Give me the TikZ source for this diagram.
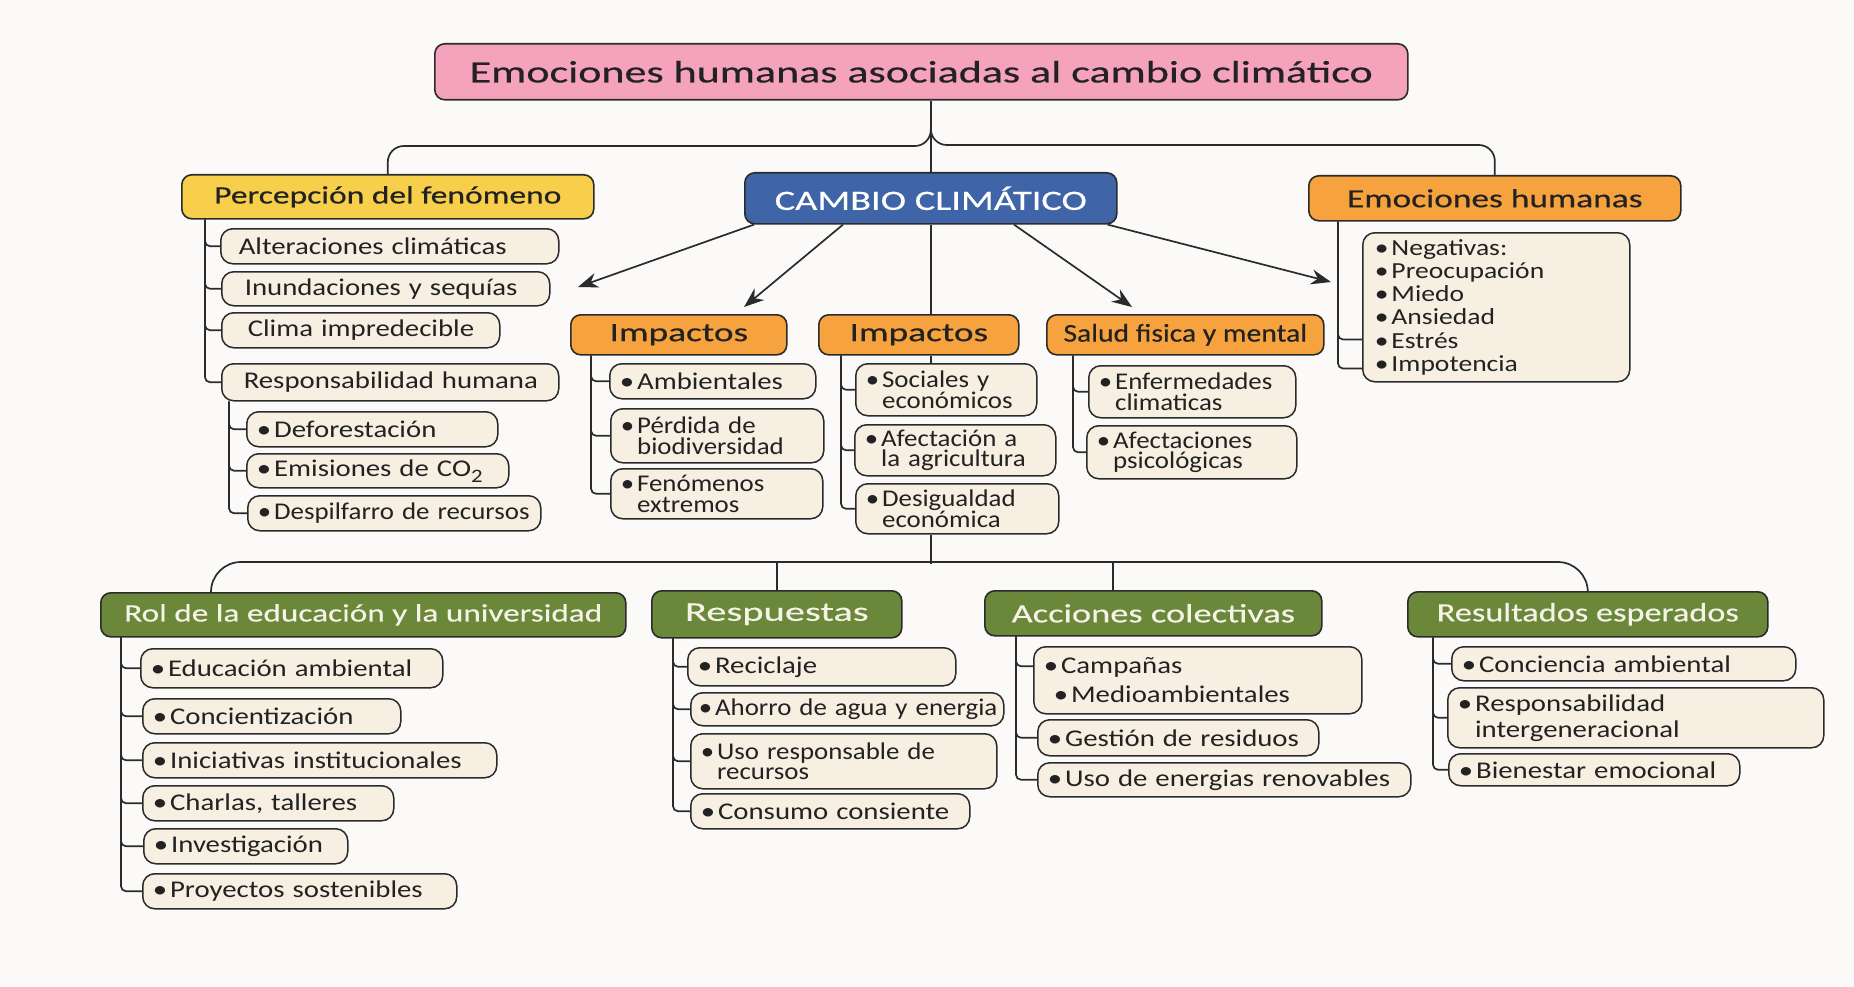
\documentclass[tikz,border=0pt]{standalone}
\usepackage{fontspec}
\setmainfont{Carlito}
\newfontfamily\cf{Carlito}
\newfontfamily\itf{Carlito}[FakeStretch=1.2]
\newfontfamily\itn{Carlito}[FakeStretch=1.12]
\usetikzlibrary{arrows.meta}
\definecolor{bgC}{HTML}{FBFAF9}
\definecolor{lineC}{HTML}{2B2B2B}
\definecolor{txtC}{HTML}{222222}
\definecolor{pinkC}{HTML}{F5A2BC}
\definecolor{yelC}{HTML}{F7CF4B}
\definecolor{blueC}{HTML}{3F65A8}
\definecolor{oraC}{HTML}{F6A23E}
\definecolor{grnC}{HTML}{6A873A}
\definecolor{itemC}{HTML}{F7EFE1}
\definecolor{gtxtC}{HTML}{F5F2E8}
\pgfdeclarelayer{back}\pgfdeclarelayer{bg}\pgfsetlayers{back,bg,main}
\newcommand\hf[2]{\cf\addfontfeature{FakeStretch=#2,FakeBold=0.4}\fontsize{#1}{#1}\selectfont}
\newcommand\itfont{\itf\fontsize{24}{20}\selectfont\lineskiplimit=-50pt\relax}
\newcommand\itnfont{\itn\fontsize{24}{20.5}\selectfont\lineskiplimit=-50pt\relax}
\newcommand\rifont{\itf\fontsize{24}{26}\selectfont\lineskiplimit=-50pt\relax}
\newcommand\lsfont{\itf\fontsize{23}{23.3}\selectfont}
\newcommand\cpfont{\itf\fontsize{24}{29}\selectfont}
\newcommand\bu{\textbullet\hspace{3pt}}
\newcommand\one[1]{\mbox{#1}}
\newcommand\bi[1]{\mbox{\bu #1}}
\newcommand\bb[2]{\mbox{\bu\vtop{\lineskiplimit=-50pt\relax\hbox{#1}\hbox{#2}}}}
\def\padx{10}
\tikzset{
  pad/.code={\def\padx{#1}},
  R/.code n args={4}{%
    \pgfmathsetmacro\rrw{#3-#1}\pgfmathsetmacro\rrh{#4-#2}\pgfmathsetmacro\rtw{#3-#1-2*\padx}%
    \edef\tmpnext{\noexpand\pgfkeysalso{anchor=north west,at={(#1,#2)},minimum width=\rrw pt,minimum height=\rrh pt,text width=\rtw pt,inner xsep=\padx pt,inner ysep=0pt}}\tmpnext},
  H/.code n args={4}{%
    \pgfmathsetmacro\rrw{#3-#1}\pgfmathsetmacro\rrh{#4-#2}%
    \edef\tmpnext{\noexpand\pgfkeysalso{anchor=north west,at={(#1,#2)},minimum width=\rrw pt,minimum height=\rrh pt,inner sep=0pt}}\tmpnext},
  hbox/.style={draw=lineC, line width=1.6pt, rounded corners=10pt, text=txtC, align=center},
  item/.style={draw=lineC, line width=1.5pt, rounded corners=12pt, fill=itemC, text=txtC, align=left, font=\itfont},
  nar/.style={font=\itnfont},
  conn/.style={draw=lineC, line width=1.7pt},
  arr/.style={draw=lineC, line width=1.7pt, -{Stealth[length=20pt,width=15pt]}},
  tr/.style={conn, rounded corners=5pt},
}
\begin{document}
\begin{tikzpicture}[x=1pt,y=-1pt]
\begin{pgfonlayer}{back}
\fill[bgC] (0,0) rectangle (1854,987);
\end{pgfonlayer}
\useasboundingbox (0,0) rectangle (1854,987);

% headers
\node[hbox, fill=pinkC, H={434}{43}{1407}{99}, font=\hf{31}{1.42}] (title) {Emociones humanas asociadas al cambio climático};
\node[hbox, fill=blueC, text=white, H={744}{172}{1116}{223}, font=\hf{28}{1.37}] (cambio) {CAMBIO CLIMÁTICO};
\node[hbox, fill=yelC, H={181}{174}{593}{218}, font=\hf{25}{1.34}] (perc) {Percepción del fenómeno};
\node[hbox, fill=oraC, H={1308}{175}{1680}{220}, font=\hf{26}{1.36}] (emo) {Emociones humanas};
\node[hbox, fill=oraC, H={570}{314}{786}{354}, font=\hf{26.4}{1.41}] (imp1) {Impactos};
\node[hbox, fill=oraC, H={818}{314}{1018}{354}, font=\hf{26.4}{1.41}] (imp2) {Impactos};
\node[hbox, fill=oraC, H={1046}{314}{1323}{354}, font=\hf{25.5}{1.16}] (salud) {Salud fisica y mental};
\node[hbox, fill=grnC, text=gtxtC, H={100}{592}{625}{636}, font=\hf{25}{1.33}] (rol) {Rol de la educación y la universidad};
\node[hbox, fill=grnC, text=gtxtC, H={651}{590}{901}{637}, font=\hf{27}{1.5}] (resp) {Respuestas};
\node[hbox, fill=grnC, text=gtxtC, H={984}{590}{1321}{635}, font=\hf{26.4}{1.38}] (acc) {Acciones colectivas};
\node[hbox, fill=grnC, text=gtxtC, H={1407}{591}{1767}{636}, font=\hf{26.4}{1.3}] (res) {Resultados esperados};

% Percepcion items
\node[item, pad=18, R={220}{228}{558}{263}] (alt) {\one{Alteraciones climáticas}};
\node[item, pad=23, R={221}{271}{549}{305}] (inu) {\one{Inundaciones y sequías}};
\node[item, pad=26, R={221}{312}{499}{347}] (cli) {\one{Clima impredecible}};
\node[item, pad=22, R={221}{363}{558}{400}] (rhum) {\one{Responsabilidad humana}};
\node[item, R={246}{411}{497}{446}] (defo) {\bi{Deforestación}};
\node[item, R={246}{453}{508}{487}] (emi) {\bi{Emisiones de CO\raisebox{-6pt}{\fontsize{19}{19}\selectfont 2}}};
\node[item, nar, R={247}{495}{540}{530}] (desp) {\bi{Despilfarro de recursos}};

% Impactos 1
\node[item, R={609}{363}{815}{398}] (amb) {\bi{Ambientales}};
\node[item, nar, R={610}{408}{823}{462}] (perd) {\bb{Pérdida de}{biodiversidad}};
\node[item, nar, R={610}{468}{822}{518}] (fen) {\bb{Fenómenos}{extremos}};
% Impactos 2
\node[item, nar, R={855}{363}{1036}{415}] (soc) {\bb{Sociales y}{económicos}};
\node[item, nar, R={854}{424}{1055}{475}] (afe) {\bb{Afectación a}{la agricultura}};
\node[item, nar, R={855}{483}{1058}{533}] (des) {\bb{Desigualdad}{económica}};
% Salud
\node[item, nar, R={1088}{365}{1295}{417}] (enf) {\bb{Enfermedades}{climaticas}};
\node[item, nar, R={1086}{425}{1296}{478}] (afp) {\bb{Afectaciones}{psicológicas}};
% Emociones list
\node[item, pad=12, R={1362}{232}{1629}{381}, font=\lsfont] (lst)
  {\bi{Negativas:}\\\bi{Preocupación}\\\bi{Miedo}\\\bi{Ansiedad}\\\bi{Estrés}\\\bi{Impotencia}};

% Rol
\node[item, R={140}{648}{442}{687}] (eda) {\bi{Educación ambiental}};
\node[item, R={142}{698}{400}{733}] (conc) {\bi{Concientización}};
\node[item, R={142}{742}{496}{777}] (ini) {\bi{Iniciativas institucionales}};
\node[item, R={142}{785}{393}{820}] (cha) {\bi{Charlas, talleres}};
\node[item, R={143}{828}{347}{863}] (inv) {\bi{Investigación}};
\node[item, R={142}{873}{456}{908}] (pro) {\bi{Proyectos sostenibles}};
% Respuestas
\node[item, R={687}{647}{955}{685}] (rec) {\bi{Reciclaje}};
\node[item, nar, pad=8, R={690}{692}{1003}{725}] (aho) {\bi{Ahorro de agua y energia}};
\node[item, nar, R={690}{733}{996}{788}] (uso) {\bb{Uso responsable de}{recursos}};
\node[item, R={690}{793}{969}{828}] (cons) {\bi{Consumo consiente}};
% Acciones
\node[item, R={1033}{646}{1361}{713}, font=\cpfont] (camp) {\bi{Campañas}\\\hspace*{10pt}\bi{Medioambientales}};
\node[item, R={1037}{719}{1318}{755}] (ges) {\bi{Gestión de residuos}};
\node[item, R={1037}{762}{1410}{796}] (ener) {\bi{Uso de energias renovables}};
% Resultados
\node[item, R={1451}{646}{1795}{680}] (ccia) {\bi{Conciencia ambiental}};
\node[item, R={1447}{687}{1823}{747}, font=\rifont] (rint) {\bb{Responsabilidad}{intergeneracional}};
\node[item, R={1448}{753}{1739}{785}] (bien) {\bi{Bienestar emocional}};

\coordinate (a1end) at (578,287);
\coordinate (a4end) at (1331,282);

\begin{pgfonlayer}{bg}
% top structure
\draw[conn] (title.south -| cambio.north) -- (cambio.north);
\path (title.south -| cambio.north) ++(0,29) coordinate (tb);
\draw[conn, rounded corners=16pt] (tb) |- ([yshift=28pt]perc.north) -- (perc.north);
\draw[conn, rounded corners=16pt] (tb) |- ([yshift=30pt]emo.north) -- (emo.north);
% arrows from cambio
\draw[arr] ([xshift=10pt]cambio.south west) -- (a1end);
\draw[arr] ([xshift=99pt]cambio.south west) -- ([xshift=174pt,yshift=7pt]imp1.north west);
\draw[arr] ([xshift=270pt]cambio.south west) -- ([xshift=86pt,yshift=7pt]salud.north west);
\draw[arr] ([xshift=-10pt]cambio.south east) -- (a4end);
\draw[conn] (cambio.south) -- (imp2.north -| cambio.south);
\draw[conn] (imp2.south -| cambio.south) -- (soc.north -| cambio.south);
% trunks
\foreach \n in {alt,inu,cli,rhum} \draw[tr] ([xshift=24pt]perc.south west) |- (\n.west);
\foreach \n in {defo,emi,desp} \draw[tr] ([xshift=8pt]rhum.south west) |- (\n.west);
\foreach \n in {amb,perd,fen} \draw[tr] ([xshift=21pt]imp1.south west) |- (\n.west);
\foreach \n in {soc,afe,des} \draw[tr] ([xshift=23pt]imp2.south west) |- (\n.west);
\foreach \n in {enf,afp} \draw[tr] ([xshift=27pt]salud.south west) |- (\n.west);
\draw[tr] ([xshift=30pt]emo.south west) |- ([yshift=14pt]lst.south west);
\draw[tr] ([xshift=30pt]emo.south west) |- ([yshift=43pt]lst.south west);
% bottom bar
\draw[conn, rounded corners=30pt] ([xshift=111pt]rol.north west) |- ([yshift=29pt]res.north) -- (res.north);
\draw[conn] (resp.north) -- ++(0,-28);
\draw[conn] ([xshift=129pt]acc.north west) -- ++(0,-28);
\draw[conn] (des.south -| cambio.south) -- ++(0,29);
\foreach \n in {eda,conc,ini,cha,inv,pro} \draw[tr] ([xshift=21pt]rol.south west) |- (\n.west);
\foreach \n in {rec,aho,uso,cons} \draw[tr] ([xshift=22pt]resp.south west) |- (\n.west);
\draw[tr] ([xshift=32pt]acc.south west) |- ([yshift=14pt]camp.west);
\foreach \n in {ges,ener} \draw[tr] ([xshift=32pt]acc.south west) |- (\n.west);
\foreach \n in {ccia,rint,bien} \draw[tr] ([xshift=26pt]res.south west) |- (\n.west);
\end{pgfonlayer}
\end{tikzpicture}
\end{document}
